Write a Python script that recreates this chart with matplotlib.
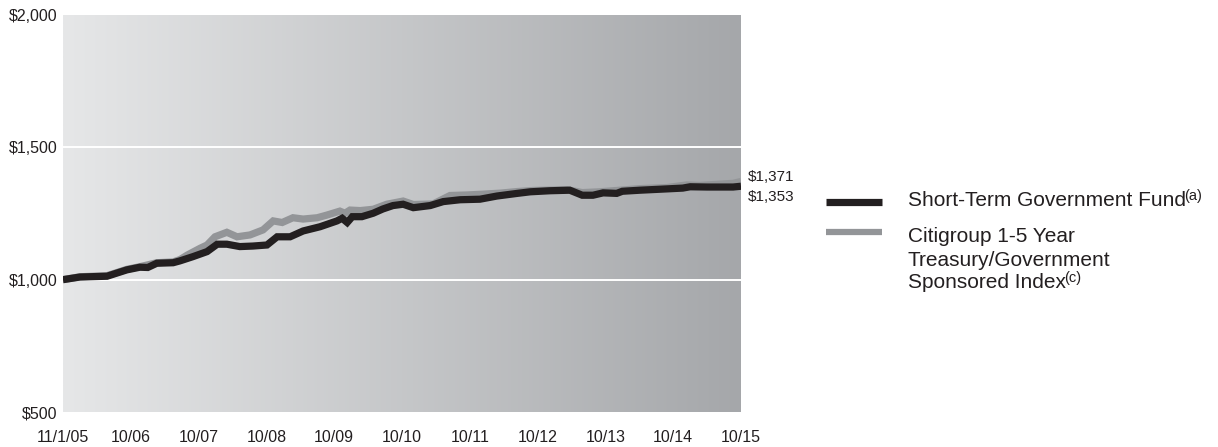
import matplotlib
matplotlib.use("Agg")
import matplotlib.pyplot as plt
import numpy as np
from matplotlib.lines import Line2D

plt.rcParams['font.family'] = ['Liberation Sans', 'DejaVu Sans']

# ---------------- data ----------------
tick_labels = ["11/1/05", "10/06", "10/07", "10/08", "10/09", "10/10",
               "10/11", "10/12", "10/13", "10/14", "10/15"]
tick_months = [0, 12, 24, 36, 48, 60, 72, 84, 96, 108, 120]

fund_months = [0, 3, 7.8, 11.3, 13.6, 15, 16.6, 19.5, 20.7, 23, 25.5, 27.3, 29,
               31.3, 33.6, 36.1, 37.9, 40.2, 42.5, 45.5, 48.5, 49.4, 50.3, 51.2,
               52.9, 54.9, 56.6, 58.4, 60.2, 62, 65, 67.3, 70.3, 73.8, 76.8, 80.4,
               82.7, 86.2, 89.7, 91.9, 93.8, 95.6, 98, 99, 102.1, 106.9, 109.7,
               111, 114, 118.6, 120]
fund_values = [1000, 1010, 1013, 1037, 1047, 1046, 1062, 1064, 1071, 1087, 1106,
               1134, 1134, 1125, 1127, 1131, 1162, 1162, 1184, 1200, 1222, 1232,
               1216, 1238, 1238, 1251, 1267, 1280, 1285, 1272, 1280, 1295, 1302,
               1304, 1316, 1326, 1332, 1336, 1338, 1319, 1319, 1328, 1326, 1334,
               1338, 1343, 1346, 1351, 1350, 1350, 1353]

index_months = [0, 3, 7.8, 11.3, 13.6, 16.6, 19.5, 20.7, 22, 24.3, 25.5, 26.9,
                29, 30.8, 33.1, 35.4, 37.2, 38.8, 40.7, 42.5, 45, 46.7, 49, 49.9,
                50.8, 52.6, 54.9, 57.3, 60.2, 62, 65.5, 68.5, 71.5, 74.3, 77.4,
                80.4, 83.2, 89.2, 91.9, 95, 98.6, 102.1, 106.9, 110.4, 112.7,
                118.6, 120]
index_values = [1000, 1011, 1015, 1039, 1049, 1064, 1067, 1076, 1093, 1119, 1131,
                1162, 1179, 1162, 1169, 1188, 1222, 1216, 1234, 1229, 1234, 1244,
                1259, 1251, 1263, 1261, 1266, 1285, 1297, 1284, 1286, 1318, 1320,
                1323, 1327, 1333, 1337, 1340, 1329, 1332, 1338, 1344, 1348, 1358,
                1356, 1364, 1371]

y_ticks = [500, 1000, 1500, 2000]
y_labels = ["$500", "$1,000", "$1,500", "$2,000"]

end_labels = ["$1,371", "$1,353"]
fund_name = "Short-Term Government Fund"
index_name_lines = ["Citigroup 1-5 Year", "Treasury/Government", "Sponsored Index"]

# ---------------- style ----------------
BLACK = "#231f20"
GRAY = "#939598"
W, H = 1218, 447

fig = plt.figure(figsize=(W / 100, H / 100), dpi=100)
ax = fig.add_axes([63 / W, 1 - 412 / H, 678 / W, 397 / H])

# gradient background
c0 = np.array([230, 231, 232]) / 255
c1 = np.array([165, 167, 170]) / 255
t = np.linspace(0, 1, 512)[None, :, None]
grad = c0 + (c1 - c0) * t
ax.imshow(grad, extent=[0, 1, 0, 1], transform=ax.transAxes, aspect="auto",
          zorder=0, interpolation="bilinear")

ax.set_xlim(0, 120)
ax.set_ylim(500, 2000)
for yv in [1000, 1500]:
    ax.axhline(yv, color="white", lw=1.4, zorder=1)

ax.plot(index_months, index_values, color=GRAY, lw=5.2, zorder=2,
        solid_joinstyle="miter", solid_capstyle="butt")
ax.plot(fund_months, fund_values, color=BLACK, lw=5.2, zorder=3,
        solid_joinstyle="miter", solid_capstyle="butt")

for s in ax.spines.values():
    s.set_visible(False)
ax.set_xticks(tick_months)
ax.set_xticklabels(tick_labels)
ax.set_yticks(y_ticks)
ax.set_yticklabels(y_labels)
ax.tick_params(axis="both", length=0, labelsize=11.5, colors="#231f20")
ax.tick_params(axis="x", pad=13)
ax.tick_params(axis="y", pad=4)

# end value labels
fig.text(748 / W, 1 - 177 / H, end_labels[0], fontsize=11, color=BLACK,
         ha="left", va="center")
fig.text(748 / W, 1 - 197 / H, end_labels[1], fontsize=11, color=BLACK,
         ha="left", va="center")

# legend
fig.add_artist(Line2D([826 / W, 882 / W], [1 - 202 / H, 1 - 202 / H],
                      color=BLACK, lw=5.2, solid_capstyle="butt"))
fig.add_artist(Line2D([826 / W, 882 / W], [1 - 232 / H, 1 - 232 / H],
                      color=GRAY, lw=4.5, solid_capstyle="butt"))

t1 = fig.text(908 / W, 1 - 201 / H, fund_name, fontsize=15, color=BLACK,
              ha="left", va="center")
ax.annotate("(a)", xy=(1, 0.78), xycoords=t1, fontsize=10.5, color=BLACK,
            ha="left", va="center", xytext=(-1.5, 0), textcoords="offset points")

line_ys = [237, 260, 283]
last = None
for txt, yy in zip(index_name_lines, line_ys):
    last = fig.text(908 / W, 1 - yy / H, txt, fontsize=15, color=BLACK,
                    ha="left", va="center")
ax.annotate("(c)", xy=(1, 0.78), xycoords=last, fontsize=10.5, color=BLACK,
            ha="left", va="center", xytext=(-1.5, 0), textcoords="offset points")

fig.savefig("out.png", dpi=100)
